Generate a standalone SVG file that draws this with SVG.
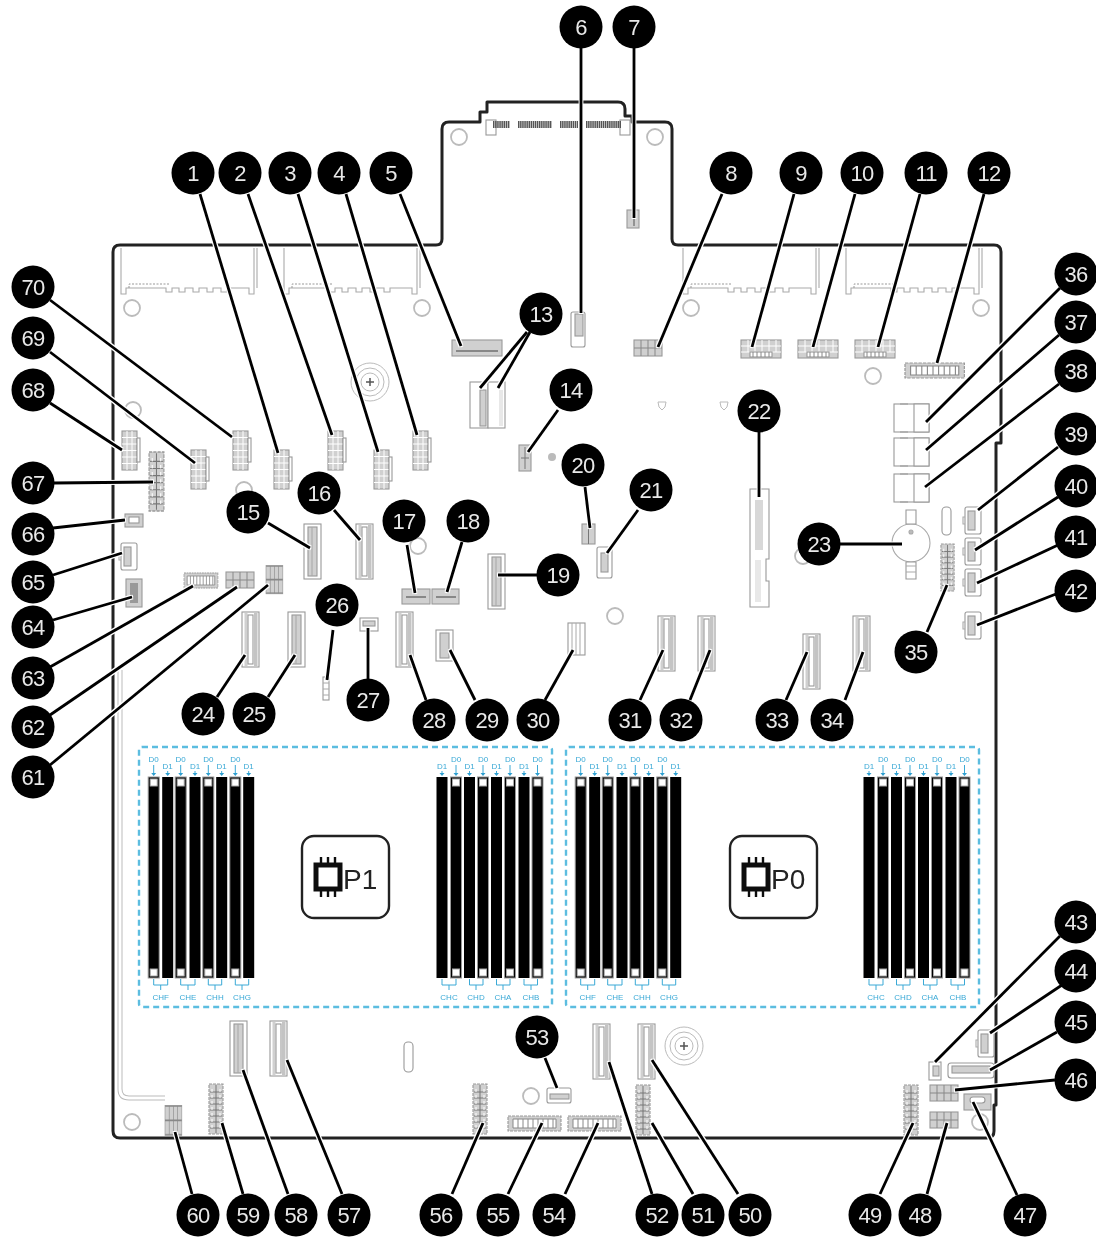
<svg xmlns="http://www.w3.org/2000/svg" width="1096" height="1239" viewBox="0 0 1096 1239">
<style>
.p{fill:#fff;stroke:#999;stroke-width:1.100}
.g{fill:#d0d0d0;stroke:#999;stroke-width:1.100}
.l{fill:none;stroke:#aaa;stroke-width:1.100}
.h{fill:#fff;stroke:#bbb;stroke-width:1.600}
.b circle{fill:#000}
.b text{fill:#e8e8e8;font:22px "Liberation Sans",Arial,sans-serif;text-anchor:middle;letter-spacing:-.8px}
.d text,.c text{fill:#3aa9d6;font:8px "Liberation Sans",Arial,sans-serif;text-anchor:middle}
.pn{fill:#222;font:28px "Liberation Sans",Arial,sans-serif}
.bx{fill:#fff;stroke:#222;stroke-width:2.400}
#connectors line{stroke:#000;stroke-width:2.800}
</style>
<defs>
<filter id="soft" x="0" y="0" width="100%" height="100%"><feGaussianBlur stdDeviation="0.6"/></filter>
<filter id="halo" x="0" y="0" width="100%" height="100%" filterUnits="userSpaceOnUse"><feMorphology operator="dilate" radius="1"/><feColorMatrix values="0 0 0 0 1 0 0 0 0 1 0 0 0 0 1 0 0 0 1 0"/></filter>
<g id="sF"><rect width="17" height="55" class="p"/><rect x="4" y="3" width="9" height="49" class="g"/><path d="M8 3v49" class="l"/></g>
<g id="sW"><rect width="17" height="55" class="p"/><rect x="2.500" y="1" width="3" height="53" fill="#d0d0d0"/><rect x="6" y="3" width="5" height="49" class="p"/><rect x="12" y="1" width="3.500" height="53" fill="#c4c4c4"/></g>
<g id="pw"><rect x="1" width="15" height="39" class="g"/><path d="M1 6.500h15M1 13h15M1 19.500h15M1 26h15M1 32.500h15M6 0v39M11 0v39" stroke="#fff" fill="none"/><rect x="16" y="7" width="3" height="24" class="p"/></g>
<g id="hv"><rect x="1" width="14" height="50" class="g" stroke-dasharray="3 1"/><path d="M8 1v48M2 8h12M2 14h12M2 20h12M2 26h12M2 32h12M2 38h12M2 44h12" stroke="#777" fill="none"/><path d="M4 5v40M12 5v40" stroke="#fff" stroke-dasharray="3 3"/></g>
<g id="hh"><rect y="1" width="53" height="15" class="g" stroke-dasharray="3 1"/><path d="M5 4h43v9H5z" fill="#fff" stroke="#888"/><path d="M10 4v9M15 4v9M20 4v9M25 4v9M30 4v9M35 4v9M40 4v9M45 4v9" stroke="#888"/></g>
<g id="hs"><rect width="40" height="18" class="g"/><path d="M0 6h40M0 12h40M7 0v12M14 0v12M21 0v12M28 0v12M35 0v12" stroke="#fff" fill="none"/><rect x="9" y="12" width="22" height="5" class="p"/><path d="M12 12v5M16 12v5M20 12v5M24 12v5M28 12v5" stroke="#888"/></g>
<g id="gr"><rect width="28" height="16" class="g"/><path d="M0 8h28M7 0v16M14 0v16M21 0v16" stroke="#888" fill="none"/></g>
<g id="sm"><rect x="0" y="0" width="16" height="27" rx="2" class="p"/><rect x="3" y="4" width="7" height="19" class="g"/><path d="M0 10h-2v7h2" class="l"/></g>
<g id="sas"><rect width="35" height="28" class="p"/><rect x="20" y="0" width="15" height="28" class="p"/><path d="M6 0h8M6 28h8" stroke="#999"/></g>
<g id="pc"><path d="M0 0v46h5v-6h40v4h6v-4h7v4h6v-4h8v4h6v-4h8v4h6v-4h8v4h6v-4h22v6h5V0M136 0v40" class="l"/><path d="M8 40v-4h40" stroke="#999" stroke-dasharray="2 1.500" fill="none"/></g>
<g id="hole"><circle r="8" fill="none" stroke="#bbb" stroke-width="1.800"/></g>
<g id="sd0"><rect x="-5.500" y="777" width="11" height="201" fill="#000" stroke="#999"/><rect x="-3.500" y="779" width="7" height="7" fill="#fff" stroke="#aaa"/><rect x="-3.500" y="969" width="7" height="7" fill="#fff" stroke="#aaa"/></g>
<rect id="sd1" x="-5.500" y="777" width="11" height="201" fill="#000"/>
<g id="mem">
<rect x="139" y="747" width="413" height="260" rx="3" fill="none" stroke="#5bbde0" stroke-width="2.400" stroke-dasharray="6 4"/>
<use href="#sd0" x="153.700"/><use href="#sd1" x="167.700"/><use href="#sd0" x="180.700"/><use href="#sd1" x="195"/><use href="#sd0" x="208.300"/><use href="#sd1" x="221.700"/><use href="#sd0" x="235.300"/><use href="#sd1" x="248.700"/>
<use href="#sd1" x="442"/><use href="#sd0" x="456"/><use href="#sd1" x="469.500"/><use href="#sd0" x="483"/><use href="#sd1" x="496.500"/><use href="#sd0" x="510"/><use href="#sd1" x="524"/><use href="#sd0" x="537.500"/>
<path d="M153.700 765v8M167.700 771v2M180.700 765v8M195 771v2M208.300 765v8M221.700 771v2M235.300 765v8M248.700 771v2M442 771v2M456 765v8M469.500 771v2M483 765v8M496.500 771v2M510 765v8M524 771v2M537.500 765v8" stroke="#3aa9d6" fill="none"/>
<path d="M151.200 773h5l-2.500 3zM165.200 773h5l-2.500 3zM178.200 773h5l-2.500 3zM192.500 773h5l-2.500 3zM205.800 773h5l-2.500 3zM219.200 773h5l-2.500 3zM232.800 773h5l-2.500 3zM246.200 773h5l-2.500 3zM439.500 773h5l-2.500 3zM453.500 773h5l-2.500 3zM467 773h5l-2.500 3zM480.500 773h5l-2.500 3zM494 773h5l-2.500 3zM507.500 773h5l-2.500 3zM521.500 773h5l-2.500 3zM535 773h5l-2.500 3z" fill="#2f9fd0"/>
<path d="M153.700 979v6h14v-6M160.700 985v5M180.700 979v6h14.300v-6M188 985v5M208.300 979v6h13.400v-6M215 985v5M235.300 979v6h13.400v-6M242 985v5M442 979v6h14v-6M449 985v5M469.500 979v6h13.500v-6M476 985v5M496.500 979v6h13.500v-6M503 985v5M524 979v6h13.500v-6M531 985v5" stroke="#3aa9d6" fill="none"/>
</g>
<g id="chip"><rect x="0" y="8" width="24" height="24" fill="#fff" stroke="#111" stroke-width="5"/><path d="M5 0v6M12 0v6M19 0v6M5 34v6M12 34v6M19 34v6" stroke="#111" stroke-width="2.400"/></g>
</defs>
<rect width="1096" height="1239" fill="#fff"/>
<g filter="url(#soft)">
<g id="board">
<path d="M123 245H436Q442 245 442 239V129Q442 122 449 122H480V112H487V102H618Q625 102 625 109V116H632V122H665Q672 122 672 129V239Q672 245 678 245H994Q1001 245 1001 252V443H996V1105H994V1131Q994 1138 987 1138H120Q113 1138 113 1131V252Q113 245 120 245Z" fill="#fff" stroke="#222" stroke-width="3" stroke-linejoin="round"/>
<use href="#pc" x="121" y="248"/><use href="#pc" x="284" y="248"/><use href="#pc" x="683" y="248"/><use href="#pc" x="846" y="248"/>
<path d="M120 670V1089Q120 1098 129 1098H165" fill="none" stroke="#bbb" stroke-width="5"/><path d="M120 670V1089Q120 1098 129 1098H165" fill="none" stroke="#fff" stroke-width="3"/>
<rect x="486" y="120" width="10" height="15" class="p"/><rect x="620" y="120" width="10" height="15" class="p"/>
<path d="M493 124.500h17M518 124.500h34M560 124.500h18M586 124.500h35" stroke="#555" stroke-width="7" stroke-dasharray="1.500 .6" fill="none"/>
<use href="#hole" x="132" y="308"/><use href="#hole" x="422" y="308"/><use href="#hole" x="459" y="137"/><use href="#hole" x="655" y="137"/><use href="#hole" x="691" y="308"/><use href="#hole" x="981" y="308"/><use href="#hole" x="873" y="376"/><use href="#hole" x="418" y="546"/><use href="#hole" x="615" y="616"/><use href="#hole" x="132" y="1122"/><use href="#hole" x="531" y="1096"/><use href="#hole" x="980" y="1122"/><use href="#hole" x="133" y="410"/><use href="#hole" x="803" y="556"/><use href="#hole" x="244" y="490"/>
<g fill="none" stroke="#bbb"><circle cx="370" cy="382" r="19"/><circle cx="370" cy="382" r="14"/><circle cx="370" cy="382" r="9"/><circle cx="684" cy="1046" r="19"/><circle cx="684" cy="1046" r="14"/><circle cx="684" cy="1046" r="9"/><path d="M658 402h8l-1 5-3 3-3-3zM720 402h8l-1 5-3 3-3-3z"/></g>
<path d="M366 382h8M370 378v8M680 1046h8M684 1042v8" stroke="#555" stroke-width="1.500"/>
<circle cx="552" cy="457" r="4" fill="#bbb"/>
<rect x="404" y="1042" width="9" height="30" rx="4" class="p"/>
<rect x="942" y="507" width="9" height="28" rx="4" class="p"/>
<g class="l"><circle cx="911" cy="543" r="19" class="l"/><path d="M906 510h10v14h-10zM906 562h10v17h-10z" class="p"/><circle cx="911" cy="532" r="2" fill="#bbb"/><path d="M906 566h10M906 572h10" stroke="#aaa"/></g>
</g>
<g id="parts">
<use href="#pw" x="121" y="431"/><use href="#pw" x="232" y="431"/><use href="#pw" x="190" y="450"/><use href="#pw" x="273" y="450"/><use href="#pw" x="327" y="431"/><use href="#pw" x="373" y="450"/><use href="#pw" x="412" y="431"/>
<g transform="translate(148 452) scale(1.060 1.180)"><use href="#hv"/></g>
<rect x="125" y="514" width="18" height="13" class="g"/><rect x="129" y="517" width="10" height="6" class="p"/>
<use href="#sm" x="121" y="543"/>
<rect x="126" y="579" width="16" height="28" class="g"/><rect x="130" y="583" width="8" height="20" fill="#999"/>
<g transform="translate(184 572) scale(.64 1)"><use href="#hh"/></g>
<use href="#gr" x="226" y="572"/>
<g transform="translate(266 566) scale(.6 1.700)"><use href="#gr"/></g>
<use href="#sF" x="304" y="524"/><use href="#sW" x="356" y="524"/><use href="#sF" x="488" y="554"/>
<rect x="402" y="589" width="28" height="15" class="g"/><path d="M406 597h20" stroke="#888" stroke-width="2"/>
<rect x="432" y="589" width="27" height="15" class="g"/><path d="M436 597h20" stroke="#888" stroke-width="2"/>
<use href="#sW" x="242" y="612"/><use href="#sF" x="288" y="612"/><use href="#sW" x="396" y="612"/>
<rect x="323" y="677" width="6" height="23" class="p"/><path d="M323 683h6M323 689h6M323 695h6" stroke="#aaa"/>
<rect x="360" y="618" width="18" height="13" class="p"/><rect x="363" y="621" width="12" height="5" class="g"/>
<rect x="436" y="630" width="17" height="31" class="p"/><rect x="440" y="633" width="9" height="25" class="g"/>
<rect x="568" y="623" width="17" height="32" class="p"/><path d="M572 623v32M576 623v32M580 623v32" stroke="#aaa"/>
<use href="#sW" x="658" y="616"/><use href="#sW" x="698" y="616"/><use href="#sW" x="803" y="634"/><use href="#sW" x="853" y="616"/>
<path d="M750 489h19v70h-3v22h3v26h-19z" class="p"/><rect x="755" y="500" width="8" height="50" fill="#d8d8d8"/><rect x="755" y="560" width="6" height="42" fill="#e8e8e8"/>
<rect x="597" y="547" width="15" height="31" rx="2" class="p"/><rect x="601" y="553" width="7" height="19" class="g"/>
<rect x="582" y="524" width="13" height="20" class="g"/><path d="M588.500 524v20" stroke="#777"/>
<rect x="519" y="445" width="12" height="26" class="g"/><path d="M525 447v22M521 458h8" stroke="#777"/>
<rect x="470" y="382" width="18" height="46" class="p"/><rect x="480" y="390" width="6" height="36" class="g"/><rect x="488" y="382" width="17" height="46" class="p"/><rect x="499" y="390" width="4" height="36" fill="#e8e8e8"/>
<rect x="571" y="312" width="14" height="35" rx="2" class="p"/><rect x="575" y="314" width="8" height="22" class="g"/>
<rect x="627" y="210" width="12" height="18" class="g"/><path d="M634 212v14" stroke="#555"/>
<rect x="452" y="340" width="50" height="16" class="g"/><path d="M456 351h42" stroke="#888" stroke-width="2"/>
<use href="#gr" x="634" y="340"/>
<use href="#hs" x="741" y="340"/><use href="#hs" x="798" y="340"/><use href="#hs" x="855" y="340"/>
<g transform="translate(905 362) scale(1.120 1)"><use href="#hh"/></g>
<use href="#sas" x="894" y="404"/><use href="#sas" x="894" y="438"/><use href="#sas" x="894" y="474"/>
<g transform="translate(940 544) scale(.94 .94)"><use href="#hv"/></g>
<use href="#sm" x="965" y="507"/><use href="#sm" x="965" y="538"/><use href="#sm" x="965" y="569"/><use href="#sm" x="965" y="612"/>
<rect x="929" y="1062" width="12" height="18" class="p"/><rect x="933" y="1066" width="6" height="10" class="g"/>
<use href="#sm" x="978" y="1030"/>
<rect x="948" y="1063" width="46" height="15" rx="3" class="p"/><rect x="952" y="1066" width="38" height="7" class="g"/>
<use href="#gr" x="930" y="1085"/><use href="#gr" x="930" y="1112"/>
<rect x="964" y="1094" width="27" height="16" class="g"/><rect x="970" y="1097" width="15" height="6" rx="3" class="p"/>
<use href="#hv" x="903" y="1085"/><use href="#hv" x="635" y="1085"/><use href="#hv" x="472" y="1084"/><use href="#hv" x="208" y="1084"/>
<use href="#sW" x="638" y="1024"/><use href="#sW" x="593" y="1024"/><use href="#sW" x="270" y="1021"/><use href="#sF" x="230" y="1021"/>
<rect x="547" y="1088" width="24" height="15" rx="2" class="p"/><rect x="550" y="1094" width="19" height="5" class="g"/>
<use href="#hh" x="568" y="1115"/><use href="#hh" x="508" y="1115"/>
<g transform="translate(165 1106) scale(.6 1.800)"><use href="#gr"/></g>
</g>
<use href="#mem"/><use href="#mem" x="427"/>
<g id="memory-labels">
<g class="d">
<text x="153.700" y="762">D0</text><text x="167.700" y="769">D1</text><text x="180.700" y="762">D0</text><text x="195" y="769">D1</text><text x="208.300" y="762">D0</text><text x="221.700" y="769">D1</text><text x="235.300" y="762">D0</text><text x="248.700" y="769">D1</text>
<text x="442" y="769">D1</text><text x="456" y="762">D0</text><text x="469.500" y="769">D1</text><text x="483" y="762">D0</text><text x="496.500" y="769">D1</text><text x="510" y="762">D0</text><text x="524" y="769">D1</text><text x="537.500" y="762">D0</text>
<text x="580.700" y="762">D0</text><text x="594.700" y="769">D1</text><text x="607.700" y="762">D0</text><text x="622" y="769">D1</text><text x="635.300" y="762">D0</text><text x="648.700" y="769">D1</text><text x="662.300" y="762">D0</text><text x="675.700" y="769">D1</text>
<text x="869" y="769">D1</text><text x="883" y="762">D0</text><text x="896.500" y="769">D1</text><text x="910" y="762">D0</text><text x="923.500" y="769">D1</text><text x="937" y="762">D0</text><text x="951" y="769">D1</text><text x="964.500" y="762">D0</text>
</g>
<g class="c">
<text x="160.700" y="1000">CHF</text><text x="188" y="1000">CHE</text><text x="215" y="1000">CHH</text><text x="242" y="1000">CHG</text><text x="449" y="1000">CHC</text><text x="476" y="1000">CHD</text><text x="503" y="1000">CHA</text><text x="531" y="1000">CHB</text>
<text x="587.700" y="1000">CHF</text><text x="615" y="1000">CHE</text><text x="642" y="1000">CHH</text><text x="669" y="1000">CHG</text><text x="876" y="1000">CHC</text><text x="903" y="1000">CHD</text><text x="930" y="1000">CHA</text><text x="958" y="1000">CHB</text>
</g>
</g>
<g id="P1"><rect x="302" y="836" width="87" height="82" rx="12" class="bx"/><use href="#chip" x="316" y="857"/><text x="343" y="889" class="pn">P1</text></g>
<g id="P0"><rect x="730" y="836" width="87" height="82" rx="12" class="bx"/><use href="#chip" x="744" y="857"/><text x="771" y="889" class="pn">P0</text></g>
<use href="#connectors" filter="url(#halo)"/>
<g id="connectors">
<line x1="200" y1="194" x2="278" y2="453"/><line x1="248" y1="194" x2="332" y2="435"/><line x1="298" y1="194" x2="378" y2="452"/><line x1="346" y1="194" x2="417" y2="435"/><line x1="400" y1="194" x2="461" y2="346"/>
<line x1="581" y1="48" x2="581" y2="313"/><line x1="634" y1="48" x2="634" y2="218"/>
<line x1="722" y1="194" x2="658" y2="347"/><line x1="794" y1="194" x2="752" y2="347"/><line x1="855" y1="194" x2="813" y2="347"/><line x1="920" y1="194" x2="878" y2="347"/><line x1="984" y1="194" x2="937" y2="363"/>
<line x1="527" y1="332" x2="480" y2="388"/><line x1="530" y1="332" x2="498" y2="388"/>
<line x1="558" y1="410" x2="528" y2="452"/>
<line x1="268" y1="523" x2="310" y2="548"/><line x1="334" y1="510" x2="360" y2="540"/><line x1="407" y1="545" x2="415" y2="593"/><line x1="462" y1="542" x2="447" y2="592"/><line x1="537" y1="575" x2="498" y2="575"/>
<line x1="585" y1="487" x2="590" y2="528"/><line x1="638" y1="510" x2="607" y2="553"/><line x1="759" y1="432" x2="759" y2="497"/><line x1="840" y1="544" x2="902" y2="544"/>
<line x1="217" y1="697" x2="245" y2="655"/><line x1="268" y1="697" x2="295" y2="655"/><line x1="333" y1="630" x2="327" y2="680"/><line x1="368" y1="680" x2="368" y2="628"/><line x1="426" y1="700" x2="410" y2="655"/><line x1="475" y1="700" x2="450" y2="650"/><line x1="545" y1="700" x2="573" y2="650"/>
<line x1="640" y1="700" x2="663" y2="650"/><line x1="690" y1="700" x2="710" y2="650"/><line x1="786" y1="700" x2="807" y2="652"/><line x1="845" y1="700" x2="863" y2="652"/><line x1="927" y1="632" x2="947" y2="585"/>
<line x1="1060" y1="288" x2="926" y2="422"/><line x1="1059" y1="335" x2="926" y2="450"/><line x1="1059" y1="384" x2="925" y2="487"/>
<line x1="1058" y1="447" x2="978" y2="510"/><line x1="1058" y1="497" x2="975" y2="550"/><line x1="1058" y1="545" x2="977" y2="583"/><line x1="1056" y1="594" x2="977" y2="625"/>
<line x1="1060" y1="936" x2="935" y2="1062"/><line x1="1062" y1="985" x2="990" y2="1033"/><line x1="1057" y1="1032" x2="990" y2="1070"/><line x1="1055" y1="1080" x2="955" y2="1090"/>
<line x1="1017" y1="1195" x2="973" y2="1102"/><line x1="927" y1="1194" x2="947" y2="1123"/><line x1="880" y1="1194" x2="913" y2="1123"/>
<line x1="738" y1="1194" x2="652" y2="1060"/><line x1="693" y1="1194" x2="652" y2="1123"/><line x1="652" y1="1194" x2="609" y2="1062"/>
<line x1="545" y1="1058" x2="557" y2="1088"/><line x1="565" y1="1194" x2="598" y2="1123"/><line x1="508" y1="1194" x2="542" y2="1123"/><line x1="452" y1="1194" x2="483" y2="1123"/>
<line x1="342" y1="1194" x2="287" y2="1060"/><line x1="288" y1="1194" x2="243" y2="1070"/><line x1="243" y1="1194" x2="222" y2="1123"/><line x1="192" y1="1194" x2="175" y2="1132"/>
<line x1="50" y1="765" x2="268" y2="585"/><line x1="50" y1="715" x2="237" y2="587"/><line x1="50" y1="667" x2="193" y2="586"/><line x1="53" y1="620" x2="132" y2="597"/><line x1="53" y1="575" x2="122" y2="553"/><line x1="53" y1="528" x2="125" y2="520"/><line x1="54" y1="483" x2="153" y2="482"/>
<line x1="50" y1="403" x2="122" y2="450"/><line x1="50" y1="352" x2="195" y2="463"/><line x1="50" y1="300" x2="232" y2="437"/>
</g>
<g id="n1" class="b"><circle cx="193" cy="173" r="21.500"/><text x="193" y="181">1</text></g>
<g id="n2" class="b"><circle cx="240" cy="173" r="21.500"/><text x="240" y="181">2</text></g>
<g id="n3" class="b"><circle cx="290" cy="173" r="21.500"/><text x="290" y="181">3</text></g>
<g id="n4" class="b"><circle cx="339" cy="173" r="21.500"/><text x="339" y="181">4</text></g>
<g id="n5" class="b"><circle cx="391" cy="173" r="21.500"/><text x="391" y="181">5</text></g>
<g id="n6" class="b"><circle cx="581" cy="27" r="21.500"/><text x="581" y="35">6</text></g>
<g id="n7" class="b"><circle cx="634" cy="27" r="21.500"/><text x="634" y="35">7</text></g>
<g id="n8" class="b"><circle cx="731" cy="173" r="21.500"/><text x="731" y="181">8</text></g>
<g id="n9" class="b"><circle cx="801" cy="173" r="21.500"/><text x="801" y="181">9</text></g>
<g id="n10" class="b"><circle cx="862" cy="173" r="21.500"/><text x="862" y="181">10</text></g>
<g id="n11" class="b"><circle cx="926" cy="173" r="21.500"/><text x="926" y="181">11</text></g>
<g id="n12" class="b"><circle cx="989" cy="173" r="21.500"/><text x="989" y="181">12</text></g>
<g id="n13" class="b"><circle cx="541" cy="314" r="21.500"/><text x="541" y="322">13</text></g>
<g id="n14" class="b"><circle cx="571" cy="390" r="21.500"/><text x="571" y="398">14</text></g>
<g id="n15" class="b"><circle cx="248" cy="512" r="21.500"/><text x="248" y="520">15</text></g>
<g id="n16" class="b"><circle cx="319" cy="493" r="21.500"/><text x="319" y="501">16</text></g>
<g id="n17" class="b"><circle cx="404" cy="521" r="21.500"/><text x="404" y="529">17</text></g>
<g id="n18" class="b"><circle cx="468" cy="521" r="21.500"/><text x="468" y="529">18</text></g>
<g id="n19" class="b"><circle cx="558" cy="575" r="21.500"/><text x="558" y="583">19</text></g>
<g id="n20" class="b"><circle cx="583" cy="465" r="21.500"/><text x="583" y="473">20</text></g>
<g id="n21" class="b"><circle cx="651" cy="490" r="21.500"/><text x="651" y="498">21</text></g>
<g id="n22" class="b"><circle cx="759" cy="411" r="21.500"/><text x="759" y="419">22</text></g>
<g id="n23" class="b"><circle cx="819" cy="544" r="21.500"/><text x="819" y="552">23</text></g>
<g id="n24" class="b"><circle cx="203" cy="714" r="21.500"/><text x="203" y="722">24</text></g>
<g id="n25" class="b"><circle cx="254" cy="714" r="21.500"/><text x="254" y="722">25</text></g>
<g id="n26" class="b"><circle cx="337" cy="605" r="21.500"/><text x="337" y="613">26</text></g>
<g id="n27" class="b"><circle cx="368" cy="700" r="21.500"/><text x="368" y="708">27</text></g>
<g id="n28" class="b"><circle cx="434" cy="720" r="21.500"/><text x="434" y="728">28</text></g>
<g id="n29" class="b"><circle cx="487" cy="720" r="21.500"/><text x="487" y="728">29</text></g>
<g id="n30" class="b"><circle cx="538" cy="720" r="21.500"/><text x="538" y="728">30</text></g>
<g id="n31" class="b"><circle cx="630" cy="720" r="21.500"/><text x="630" y="728">31</text></g>
<g id="n32" class="b"><circle cx="681" cy="720" r="21.500"/><text x="681" y="728">32</text></g>
<g id="n33" class="b"><circle cx="777" cy="720" r="21.500"/><text x="777" y="728">33</text></g>
<g id="n34" class="b"><circle cx="832" cy="720" r="21.500"/><text x="832" y="728">34</text></g>
<g id="n35" class="b"><circle cx="916" cy="652" r="21.500"/><text x="916" y="660">35</text></g>
<g id="n36" class="b"><circle cx="1076" cy="274" r="21.500"/><text x="1076" y="282">36</text></g>
<g id="n37" class="b"><circle cx="1076" cy="322" r="21.500"/><text x="1076" y="330">37</text></g>
<g id="n38" class="b"><circle cx="1076" cy="371" r="21.500"/><text x="1076" y="379">38</text></g>
<g id="n39" class="b"><circle cx="1076" cy="434" r="21.500"/><text x="1076" y="442">39</text></g>
<g id="n40" class="b"><circle cx="1076" cy="486" r="21.500"/><text x="1076" y="494">40</text></g>
<g id="n41" class="b"><circle cx="1076" cy="537" r="21.500"/><text x="1076" y="545">41</text></g>
<g id="n42" class="b"><circle cx="1076" cy="591" r="21.500"/><text x="1076" y="599">42</text></g>
<g id="n43" class="b"><circle cx="1076" cy="922" r="21.500"/><text x="1076" y="930">43</text></g>
<g id="n44" class="b"><circle cx="1076" cy="971" r="21.500"/><text x="1076" y="979">44</text></g>
<g id="n45" class="b"><circle cx="1076" cy="1022" r="21.500"/><text x="1076" y="1030">45</text></g>
<g id="n46" class="b"><circle cx="1076" cy="1080" r="21.500"/><text x="1076" y="1088">46</text></g>
<g id="n47" class="b"><circle cx="1025" cy="1215" r="21.500"/><text x="1025" y="1223">47</text></g>
<g id="n48" class="b"><circle cx="920" cy="1215" r="21.500"/><text x="920" y="1223">48</text></g>
<g id="n49" class="b"><circle cx="870" cy="1215" r="21.500"/><text x="870" y="1223">49</text></g>
<g id="n50" class="b"><circle cx="750" cy="1215" r="21.500"/><text x="750" y="1223">50</text></g>
<g id="n51" class="b"><circle cx="703" cy="1215" r="21.500"/><text x="703" y="1223">51</text></g>
<g id="n52" class="b"><circle cx="657" cy="1215" r="21.500"/><text x="657" y="1223">52</text></g>
<g id="n53" class="b"><circle cx="537" cy="1037" r="21.500"/><text x="537" y="1045">53</text></g>
<g id="n54" class="b"><circle cx="554" cy="1215" r="21.500"/><text x="554" y="1223">54</text></g>
<g id="n55" class="b"><circle cx="498" cy="1215" r="21.500"/><text x="498" y="1223">55</text></g>
<g id="n56" class="b"><circle cx="441" cy="1215" r="21.500"/><text x="441" y="1223">56</text></g>
<g id="n57" class="b"><circle cx="349" cy="1215" r="21.500"/><text x="349" y="1223">57</text></g>
<g id="n58" class="b"><circle cx="296" cy="1215" r="21.500"/><text x="296" y="1223">58</text></g>
<g id="n59" class="b"><circle cx="248" cy="1215" r="21.500"/><text x="248" y="1223">59</text></g>
<g id="n60" class="b"><circle cx="198" cy="1215" r="21.500"/><text x="198" y="1223">60</text></g>
<g id="n61" class="b"><circle cx="33" cy="777" r="21.500"/><text x="33" y="785">61</text></g>
<g id="n62" class="b"><circle cx="33" cy="727" r="21.500"/><text x="33" y="735">62</text></g>
<g id="n63" class="b"><circle cx="33" cy="678" r="21.500"/><text x="33" y="686">63</text></g>
<g id="n64" class="b"><circle cx="33" cy="627" r="21.500"/><text x="33" y="635">64</text></g>
<g id="n65" class="b"><circle cx="33" cy="582" r="21.500"/><text x="33" y="590">65</text></g>
<g id="n66" class="b"><circle cx="33" cy="534" r="21.500"/><text x="33" y="542">66</text></g>
<g id="n67" class="b"><circle cx="33" cy="483" r="21.500"/><text x="33" y="491">67</text></g>
<g id="n68" class="b"><circle cx="33" cy="390" r="21.500"/><text x="33" y="398">68</text></g>
<g id="n69" class="b"><circle cx="33" cy="338" r="21.500"/><text x="33" y="346">69</text></g>
<g id="n70" class="b"><circle cx="33" cy="287" r="21.500"/><text x="33" y="295">70</text></g>
</g>
</svg>
